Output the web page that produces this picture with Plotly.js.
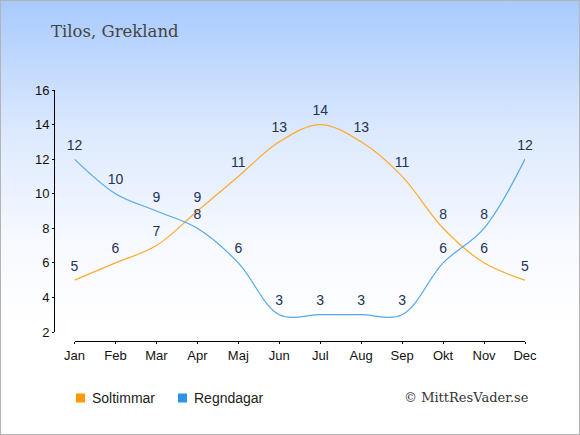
<!DOCTYPE html>
<html>
<head>
<meta charset="utf-8">
<script src="https://cdn.plot.ly/plotly-3.0.1.min.js"></script>
<style>
  html, body { margin: 0; padding: 0; }
  #wrap {
    width: 580px; height: 435px; box-sizing: border-box;
    border: 1px solid #b4b4b4;
    background: linear-gradient(to bottom, #a8cafe 0%, #dce9fe 30%, #f6f9ff 55%, #ffffff 75%, #ffffff 100%);
  }
  #chart { width: 578px; height: 433px; }
</style>
</head>
<body>
<div id="wrap"><div id="chart"></div></div>
<script>
const months = ["Jan","Feb","Mar","Apr","Maj","Jun","Jul","Aug","Sep","Okt","Nov","Dec"];
const soltimmar = [5, 6, 7, 9, 11, 13, 14, 13, 11, 8, 6, 5];
const regndagar = [12, 10, 9, 8, 6, 3, 3, 3, 3, 6, 8, 12];
const yTicks = [2, 4, 6, 8, 10, 12, 14, 16];
const seriesNames = ["Soltimmar", "Regndagar"];
const lineColors = ["#ffaa33", "#55a8ee"];
const legendColors = ["#ff9900", "#2e93e6"];

const idx = months.map((m, i) => i);
const labelFont = {family: "Liberation Sans, Arial, sans-serif", size: 14, color: "#223355"};

function lineTrace(vals, color) {
  return {
    x: idx, y: vals, type: "scatter", mode: "lines",
    line: {color: color, width: 1.2, shape: "spline", smoothing: 1},
    hoverinfo: "skip", showlegend: false, cliponaxis: false
  };
}
function textTrace(vals) {
  return {
    x: idx, y: vals, type: "scatter", mode: "markers+text",
    marker: {size: 8, opacity: 0},
    text: vals.map(String), textposition: "top center",
    textfont: labelFont, hoverinfo: "skip", showlegend: false, cliponaxis: false
  };
}

const data = [
  lineTrace(soltimmar, lineColors[0]),
  lineTrace(regndagar, lineColors[1]),
  textTrace(soltimmar),
  textTrace(regndagar)
];

const axisFont = {family: "Liberation Sans, Arial, sans-serif", size: 13, color: "#111"};
const xDom = [20.5 / 471, 1];
const yDom = [9 / 251, 1];

const layout = {
  width: 578, height: 433,
  margin: {l: 53, r: 54, t: 89, b: 93},
  paper_bgcolor: "rgba(0,0,0,0)",
  plot_bgcolor: "rgba(0,0,0,0)",
  showlegend: false,
  xaxis: {
    domain: xDom, range: [0, months.length - 1],
    anchor: "free", position: 0,
    tickmode: "array", tickvals: idx, ticktext: months,
    showline: true, linecolor: "#000", linewidth: 1,
    ticks: "outside", ticklen: 2, tickcolor: "#000",
    showgrid: false, zeroline: false, tickfont: axisFont, fixedrange: true
  },
  xaxis2: {
    overlaying: "x", domain: xDom, range: [0, months.length - 1],
    anchor: "free", position: 0,
    tickmode: "array", tickvals: idx, showticklabels: false,
    showline: false, ticks: "inside", ticklen: 2, tickcolor: "#000",
    showgrid: false, zeroline: false
  },
  yaxis: {
    domain: yDom, range: [2, 16],
    anchor: "free", position: 0,
    tickmode: "array", tickvals: yTicks,
    showline: true, linecolor: "#000", linewidth: 1,
    ticks: "outside", ticklen: 2, tickcolor: "#000",
    showgrid: false, zeroline: false, tickfont: axisFont, fixedrange: true
  },
  yaxis2: {
    overlaying: "y", domain: yDom, range: [2, 16],
    anchor: "free", position: 0,
    tickmode: "array", tickvals: yTicks, showticklabels: false,
    showline: false, ticks: "inside", ticklen: 2, tickcolor: "#000",
    showgrid: false, zeroline: false
  },
  annotations: [
    {text: "Tilos, Grekland", xref: "paper", yref: "paper",
     x: -5 / 471, y: 1 + 58 / 251, xanchor: "left", yanchor: "middle", showarrow: false,
     font: {family: "DejaVu Serif, serif", size: 16.5, color: "#444"}},
    {text: seriesNames[0], xref: "paper", yref: "paper",
     x: 36 / 471, y: -57 / 251, xanchor: "left", yanchor: "middle", showarrow: false,
     font: {family: "Liberation Sans, Arial, sans-serif", size: 14, color: "#222"}},
    {text: seriesNames[1], xref: "paper", yref: "paper",
     x: 138 / 471, y: -57 / 251, xanchor: "left", yanchor: "middle", showarrow: false,
     font: {family: "Liberation Sans, Arial, sans-serif", size: 14, color: "#222"}},
    {text: "© MittResVader.se", xref: "paper", yref: "paper",
     x: 477 / 471, y: -56 / 251, xanchor: "right", yanchor: "middle", showarrow: false,
     font: {family: "DejaVu Serif, serif", size: 13, color: "#333"}}
  ],
  shapes: [
    {type: "rect", xref: "paper", yref: "paper",
     x0: 22 / 471, x1: 31 / 471, y0: -52.5 / 251, y1: -61.5 / 251,
     fillcolor: legendColors[0], line: {width: 0}},
    {type: "rect", xref: "paper", yref: "paper",
     x0: 124 / 471, x1: 133 / 471, y0: -52.5 / 251, y1: -61.5 / 251,
     fillcolor: legendColors[1], line: {width: 0}}
  ]
};

Plotly.newPlot("chart", data, layout, {staticPlot: true, displayModeBar: false});
</script>
</body>
</html>
